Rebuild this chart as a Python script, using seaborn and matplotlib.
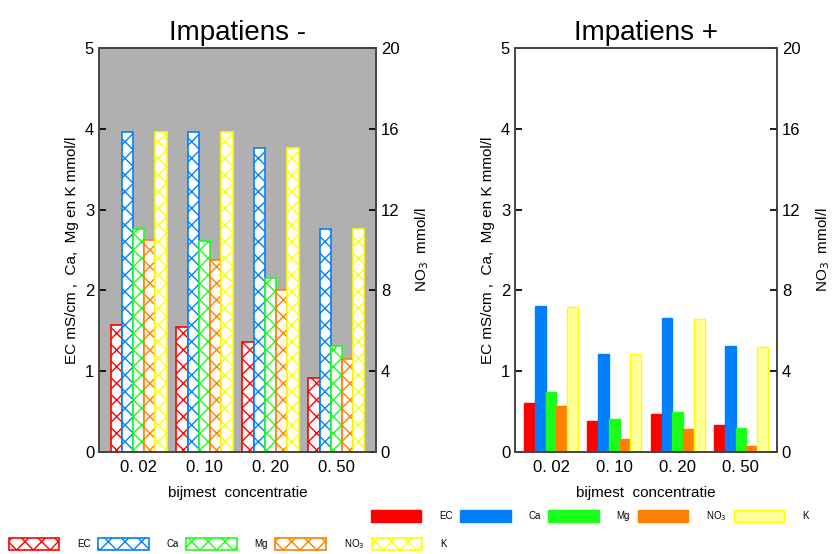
import matplotlib
matplotlib.use("Agg")
import matplotlib.pyplot as plt
import seaborn as sns
import pandas as pd
from matplotlib.patches import Patch

# ---- data ----
conc = ["0. 02", "0. 10", "0. 20", "0. 50"]
ions = ["EC", "Ca", "Mg", "NO3", "K"]
ion_labels = ["EC", "Ca", "Mg", "NO$_3$", "K"]

minus_EC = [1.57, 1.55, 1.36, 0.91]
minus_Ca = [3.96, 3.96, 3.76, 2.76]
minus_Mg = [2.76, 2.61, 2.15, 1.31]
minus_NO3 = [10.5, 9.5, 8.0, 4.6]      # mmol/l, right axis (0-20)
minus_K = [3.96, 3.96, 3.76, 2.76]

plus_EC = [0.61, 0.38, 0.47, 0.34]
plus_Ca = [1.81, 1.21, 1.66, 1.31]
plus_Mg = [0.74, 0.41, 0.50, 0.30]
plus_NO3 = [2.3, 0.65, 1.15, 0.3]      # mmol/l, right axis (0-20)
plus_K = [1.80, 1.21, 1.65, 1.30]

edge_colors = ["#ff0000", "#0080ff", "#1aff1a", "#ff8000", "#ffff00"]
fill_colors = ["#ff0000", "#0080ff", "#1aff1a", "#ff8000", "#ffff99"]

NO3_SCALE = 20 / 5  # right axis 0-20 against left axis 0-5


def make_df(ec, ca, mg, no3, k):
    rows = []
    series = {"EC": ec, "Ca": ca, "Mg": mg, "NO3": [v / NO3_SCALE for v in no3], "K": k}
    for ion in ions:
        for c, v in zip(conc, series[ion]):
            rows.append({"conc": c, "ion": ion, "val": v})
    return pd.DataFrame(rows)


df_minus = make_df(minus_EC, minus_Ca, minus_Mg, minus_NO3, minus_K)
df_plus = make_df(plus_EC, plus_Ca, plus_Mg, plus_NO3, plus_K)

sns.set_theme(style="white")
plt.rcParams["font.family"] = ["Liberation Sans", "DejaVu Sans"]
plt.rcParams["hatch.linewidth"] = 1.0
plt.rcParams["text.color"] = "black"
plt.rcParams["axes.labelcolor"] = "black"
plt.rcParams["xtick.color"] = "black"
plt.rcParams["ytick.color"] = "black"

fig = plt.figure(figsize=(8.38, 5.54), dpi=100)
axL = fig.add_axes([99 / 838, 102 / 554, 277 / 838, 404 / 554])
axR = fig.add_axes([515 / 838, 102 / 554, 262 / 838, 404 / 554])


def draw(ax, df, hatched, margin):
    sns.barplot(data=df, x="conc", y="val", hue="ion", order=conc, hue_order=ions,
                palette=fill_colors, saturation=1, errorbar=None, width=0.85,
                legend=False, ax=ax)
    for i, cont in enumerate(ax.containers):
        for bar in cont:
            if hatched:
                bar.set_facecolor("white")
                bar.set_edgecolor(edge_colors[i])
                bar.set_hatch("xx")
                bar.set_linewidth(1.2)
            else:
                bar.set_facecolor(fill_colors[i])
                bar.set_edgecolor(edge_colors[i])
                bar.set_linewidth(1.0)
    ax.set_ylim(0, 5)
    ax.set_yticks([0, 1, 2, 3, 4, 5])
    ax.set_xlim(-margin, 3 + margin)
    ax.set_xlabel("bijmest  concentratie", fontsize=11, labelpad=8)
    ax.set_ylabel("EC mS/cm ,  Ca,  Mg en K mmol/l", fontsize=11)
    ax.tick_params(axis="y", direction="in", length=5, labelsize=12)
    ax.tick_params(axis="x", length=0, labelsize=12, pad=6)
    for s in ax.spines.values():
        s.set_color("#444444")
        s.set_linewidth(1.2)
    tw = ax.twinx()
    tw.set_ylim(0, 20)
    tw.set_yticks([0, 4, 8, 12, 16, 20])
    tw.tick_params(axis="y", direction="in", length=5, labelsize=12)
    tw.set_ylabel("NO$_3$  mmol/l", fontsize=11, labelpad=10)
    for s in tw.spines.values():
        s.set_color("#444444")
        s.set_linewidth(1.2)
    return tw


draw(axL, df_minus, hatched=True, margin=0.6)
axL.set_facecolor("#b0b0b0")
draw(axR, df_plus, hatched=False, margin=0.57)

axL.set_title("Impatiens -", fontsize=20, pad=6)
axR.set_title("Impatiens +", fontsize=20, pad=6)

filled_handles = [Patch(facecolor=fill_colors[i], edgecolor=edge_colors[i]) for i in range(5)]
hatched_handles = [Patch(facecolor="white", edgecolor=edge_colors[i], hatch="xx", linewidth=1.2)
                   for i in range(5)]

fig.legend(filled_handles, ion_labels, loc="center left", bbox_to_anchor=(362 / 838, 1 - 516 / 554),
           ncol=5, frameon=False, fontsize=7, handlelength=5.2, handleheight=1.5,
           handletextpad=1.8, columnspacing=0.8)
fig.legend(hatched_handles, ion_labels, loc="center left", bbox_to_anchor=(0 / 838, 1 - 544 / 554),
           ncol=5, frameon=False, fontsize=7, handlelength=5.2, handleheight=1.5,
           handletextpad=1.8, columnspacing=0.8)

fig.savefig("out.png", dpi=100)
